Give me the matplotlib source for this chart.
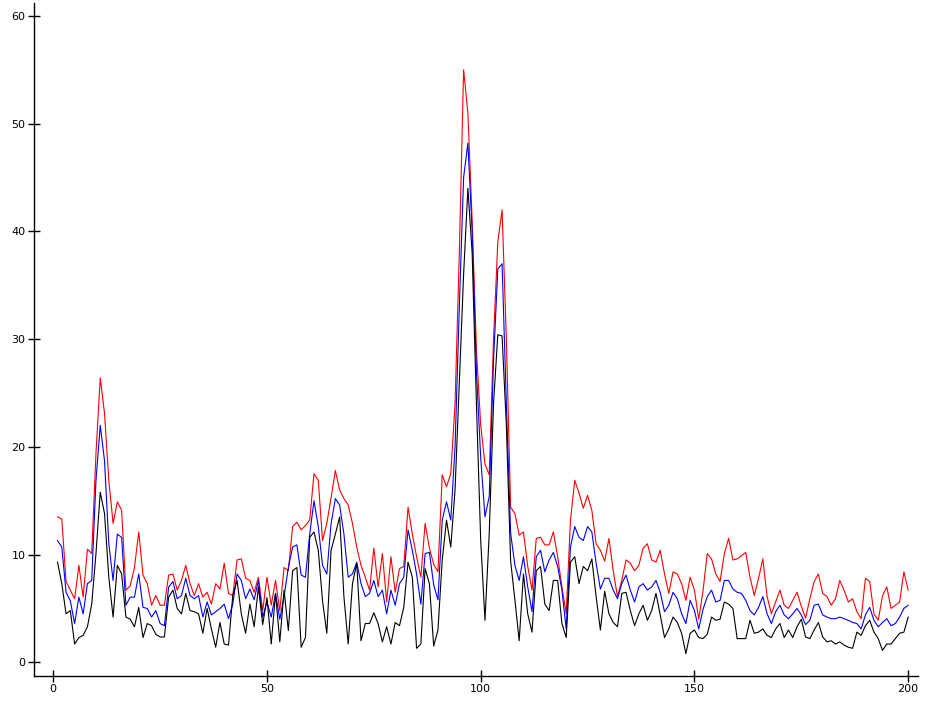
import matplotlib
matplotlib.use("Agg")
import matplotlib.pyplot as plt
import numpy as np

x_values = list(range(1, 201))

red_values = [
    13.5, 13.3, 7.5, 6.7, 5.9, 9.0, 6.05, 10.5, 10.1, 19.4,
    26.4, 23.1, 16.9, 12.9, 14.9, 14.1, 6.7, 7.1, 8.8, 12.1,
    8.1, 7.3, 5.3, 6.2, 5.3, 5.3, 8.1, 8.2, 6.7, 7.6,
    9.0, 7.3, 6.2, 7.3, 6.06, 6.5, 5.4, 7.3, 6.8, 9.2,
    6.4, 6.2, 9.5, 9.6, 7.8, 7.6, 6.5, 7.9, 4.8, 7.9,
    5.3, 7.6, 4.8, 8.8, 8.5, 12.6, 13.0, 12.3, 12.7, 13.2,
    17.5, 16.9, 11.3, 12.9, 15.3, 17.8, 16.0, 15.2, 14.6, 12.9,
    10.7, 9.0, 7.9, 6.7, 10.6, 7.0, 10.1, 5.6, 9.8, 6.5,
    8.7, 8.9, 14.4, 11.9, 9.8, 7.9, 12.9, 10.6, 9.1, 8.4,
    17.4, 16.3, 17.5, 24.0, 38.0, 55.0, 51.0, 41.0, 29.0, 22.0,
    18.4, 17.4, 30.0, 39.0, 42.0, 30.0, 14.4, 13.8, 11.8, 12.1,
    8.9, 6.7, 11.5, 11.6, 10.9, 10.9, 12.1, 9.8, 7.0, 4.5,
    13.2, 16.9, 15.7, 14.3, 15.5, 14.1, 11.0, 10.4, 9.4, 11.5,
    8.5, 6.1, 7.6, 9.5, 9.2, 8.5, 9.0, 10.6, 11.0, 9.5,
    9.3, 10.4, 8.2, 6.4, 8.4, 8.2, 7.3, 5.75, 7.9, 6.7,
    4.0, 6.6, 10.1, 9.6, 8.2, 7.5, 10.1, 11.5, 9.5, 9.6,
    9.9, 10.2, 7.9, 6.2, 7.8, 9.6, 6.1, 4.5, 5.6, 6.7,
    5.3, 5.0, 5.75, 6.5, 5.2, 4.1, 5.9, 7.5, 8.2, 6.4,
    6.1, 5.3, 5.9, 7.6, 6.7, 5.6, 5.9, 4.7, 4.05, 7.8,
    7.5, 4.5, 3.9, 6.2, 7.0, 5.0, 5.3, 5.6, 8.4, 6.7,
]

blue_values = [
    11.3, 10.7, 6.5, 5.7, 3.6, 6.05, 4.5, 7.3, 7.6, 16.9,
    22.0, 18.7, 11.0, 7.6, 11.9, 11.6, 5.3, 6.05, 6.05, 8.2,
    5.1, 5.0, 4.2, 4.8, 3.6, 3.4, 7.0, 7.5, 5.9, 6.2,
    7.8, 6.2, 5.9, 6.2, 4.2, 5.6, 4.4, 4.7, 5.0, 5.4,
    4.05, 5.4, 8.2, 7.6, 5.9, 6.8, 5.8, 7.6, 4.2, 5.6,
    4.2, 6.4, 4.0, 6.1, 8.8, 10.7, 10.9, 8.1, 7.9, 11.9,
    15.0, 12.6, 9.0, 8.2, 12.9, 15.2, 14.6, 11.9, 7.9, 8.2,
    9.3, 7.3, 6.1, 6.4, 7.6, 6.1, 6.7, 4.5, 6.7, 5.3,
    7.3, 7.9, 12.3, 10.4, 8.2, 5.4, 10.1, 10.2, 7.2, 5.8,
    13.2, 14.9, 13.2, 20.0, 33.0, 45.0, 48.2, 40.0, 27.0, 19.0,
    13.5, 15.4, 28.0, 36.5, 37.0, 24.0, 12.0, 9.0, 7.6, 9.8,
    7.0, 4.7, 9.8, 10.4, 8.4, 9.5, 10.2, 8.9, 6.7, 3.1,
    10.7, 12.6, 11.6, 11.3, 12.6, 12.1, 9.2, 6.8, 7.8, 7.8,
    6.7, 5.9, 7.3, 8.1, 6.7, 5.6, 7.0, 7.3, 6.7, 7.0,
    7.6, 6.5, 4.7, 5.3, 6.5, 5.9, 4.5, 3.6, 5.75, 4.8,
    3.1, 4.9, 6.1, 6.7, 5.6, 5.75, 7.6, 7.6, 6.8, 6.5,
    6.4, 5.75, 4.8, 4.4, 5.1, 6.1, 4.5, 3.6, 4.7, 5.3,
    4.4, 4.05, 4.5, 5.0, 4.4, 3.5, 3.9, 5.3, 5.4, 4.4,
    4.2, 4.05, 4.05, 4.2, 4.05, 3.9, 3.7, 3.6, 3.1, 4.4,
    5.1, 3.9, 3.3, 3.7, 4.05, 3.4, 3.6, 4.2, 5.0, 5.3,
]

black_values = [
    9.3, 7.3, 4.5, 4.8, 1.7, 2.3, 2.5, 3.3, 5.4, 10.1,
    15.8, 13.8, 7.9, 4.2, 9.0, 8.2, 4.2, 4.0, 3.3, 5.1,
    2.3, 3.6, 3.4, 2.6, 2.35, 2.35, 6.06, 6.7, 5.0, 4.5,
    6.4, 4.8, 4.7, 4.5, 2.7, 5.0, 3.1, 1.4, 3.7, 1.7,
    1.6, 6.2, 7.6, 4.5, 2.7, 5.4, 3.3, 7.0, 3.5, 6.0,
    1.7, 6.4, 1.9, 6.7, 2.95, 8.5, 8.8, 1.4, 2.3, 11.6,
    12.1, 10.4, 5.7, 2.7, 10.4, 11.9, 13.5, 6.1, 1.7, 7.3,
    9.2, 2.0, 3.6, 3.6, 4.6, 3.6, 1.9, 3.3, 1.7, 3.7,
    3.4, 5.1, 9.3, 7.9, 1.3, 1.7, 8.7, 7.3, 1.5, 3.0,
    9.5, 13.2, 10.7, 16.0, 26.0, 36.0, 44.0, 38.0, 24.0, 11.3,
    3.9, 12.0, 24.0, 30.4, 30.3, 22.0, 9.4, 5.8, 2.0, 8.2,
    4.5, 2.8, 8.5, 8.9, 5.4, 4.8, 7.6, 7.6, 3.6, 2.3,
    9.3, 9.8, 7.3, 8.9, 8.5, 9.6, 6.1, 3.0, 6.6, 4.5,
    3.7, 3.3, 6.4, 6.5, 4.8, 3.4, 4.5, 5.3, 3.9, 4.8,
    6.4, 4.4, 2.3, 3.1, 4.2, 3.7, 2.7, 0.8, 2.7, 3.0,
    2.3, 2.2, 2.6, 4.2, 3.9, 4.0, 5.6, 5.4, 5.0, 2.2,
    2.2, 2.2, 3.9, 2.7, 2.8, 3.1, 2.5, 2.3, 3.1, 3.6,
    2.3, 3.0, 2.3, 3.3, 4.0, 2.35, 2.2, 3.0, 3.7, 2.35,
    1.9, 2.0, 1.7, 1.9, 1.6, 1.4, 1.3, 2.8, 2.5, 3.4,
    3.9, 2.8, 2.2, 1.1, 1.7, 1.7, 2.2, 2.7, 2.8, 4.2,
]

x_ticks = [0, 50, 100, 150, 200]
y_ticks = [0, 10, 20, 30, 40, 50, 60]

fig = plt.figure(figsize=(9.29, 7.01), dpi=100)
ax = fig.add_axes([34 / 929, 1 - 676 / 701, (918 - 34) / 929, (676 - 3) / 701])

ax.plot(x_values, red_values, color="#ff0000", lw=0.8)
ax.plot(x_values, blue_values, color="#0000ff", lw=0.8)
ax.plot(x_values, black_values, color="#000000", lw=0.8)

ax.set_xlim(-4.5, 202.3)
ax.set_ylim(-1.27, 61.2)
ax.set_xticks(x_ticks)
ax.set_yticks(y_ticks)
ax.set_xticklabels([str(t) for t in x_ticks])
ax.set_yticklabels([str(t) for t in y_ticks])

for s in ["top", "right"]:
    ax.spines[s].set_visible(False)
for s in ["left", "bottom"]:
    ax.spines[s].set_linewidth(1.0)

ax.tick_params(axis="both", direction="inout", length=8, width=1.0,
               labelsize=8, pad=2, colors="black")

fig.savefig("out.png", dpi=100)
